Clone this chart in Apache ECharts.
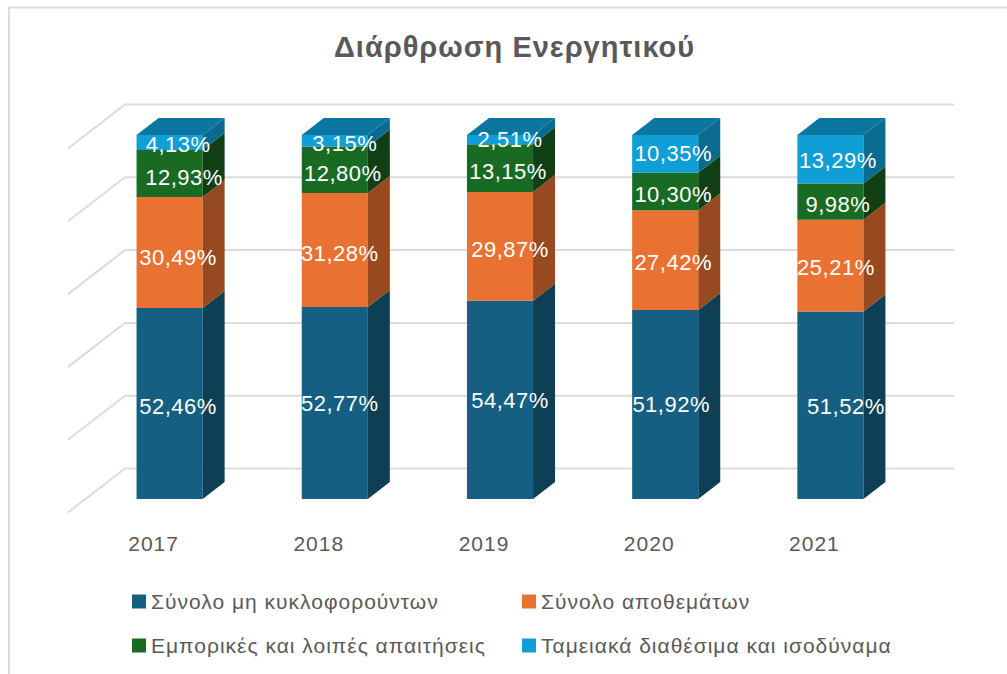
<!DOCTYPE html>
<html><head><meta charset="utf-8">
<style>html,body{margin:0;padding:0;background:#fff}#c{width:1007px;height:674px}
#c svg text{letter-spacing:1px}
#c svg text[style*="22px"]{letter-spacing:.5px}
</style>
<script src="https://cdn.jsdelivr.net/npm/echarts@6/dist/echarts.min.js"></script>
</head><body><div id="c"></div>
<script>
const chartTitle = 'Διάρθρωση Ενεργητικού';
const years = ['2017','2018','2019','2020','2021'];
const seriesNames = ['Σύνολο μη κυκλοφορούντων','Σύνολο αποθεμάτων','Εμπορικές και λοιπές απαιτήσεις','Ταμειακά διαθέσιμα και ισοδύναμα'];
const nonCurrent = [52.46,52.77,54.47,51.92,51.52];
const inventories = [30.49,31.28,29.87,27.42,25.21];
const receivables = [12.93,12.80,13.15,10.30,9.98];
const cash = [4.13,3.15,2.51,10.35,13.29];
const wallTicks = [0,20,40,60,80,100];

const values = [nonCurrent,inventories,receivables,cash];
const front = ['#156082','#E97132','#196B24','#0F9ED5'];
const side = ['#0D3F55','#97491F','#103F16','#0A6A90'];
const topFace = '#0B76A0';
const DX = 22, DY = -17;
const labelShift = [
 [[8.5,2.5],[5,1],[10,1],[6,0],[15.5,1]],
 [[8.5,5],[5,4],[10,3.6],[8,2],[5.5,2.4]],
 [[14.5,3.5],[8,4],[8,3],[8,3.5],[7.5,2.5]],
 [[8.5,2.5],[10,3],[10,0.4],[8,0],[7.5,1]]
];
const fmt = v => v.toFixed(2).replace('.',',') + '%';

function poly(points, fill){ return {type:'polygon',shape:{points},style:{fill},silent:true}; }

const series = [{
  type:'custom', name:'walls', silent:true, z:1,
  coordinateSystem:'cartesian2d',
  data: wallTicks.map(t=>[0,t]),
  renderItem(params, api){
    const g = params.coordSys;
    const y = api.coord([0, api.value(1)])[1] - 30.5;
    const l = g.x + 38, r = g.x + g.width + 41;
    return {type:'polyline',silent:true,
      shape:{points:[[l-57,y+44],[l,y],[r,y]]},
      style:{fill:null,stroke:'#DCDCDC',lineWidth:2}};
  }
}];
values.forEach((vals,si)=>{
  const data = vals.map((v,i)=>{
    let base = 0;
    for(let k=0;k<si;k++) base += values[k][i];
    return [i, base, base+v, v];
  });
  series.push({
    type:'custom', name:seriesNames[si], z:2+si, silent:true,
    coordinateSystem:'cartesian2d',
    itemStyle:{color:front[si]},
    data,
    encode:{x:0,y:[1,2]},
    renderItem(params, api){
      const i = api.value(0), a = api.value(1), b = api.value(2);
      const w = api.size([1,0])[0]*0.4;
      const p0 = api.coord([i,a]), p1 = api.coord([i,b]);
      const xl = p0[0]-w/2, xr = p0[0]+w/2;
      const ch = [
        {type:'rect',shape:{x:xl,y:p1[1],width:w,height:p0[1]-p1[1]},style:{fill:front[si]},silent:true},
        poly([[xr,p0[1]],[xr+DX,p0[1]+DY],[xr+DX,p1[1]+DY],[xr,p1[1]]],side[si])
      ];
      if(si===values.length-1){
        ch.push(poly([[xl,p1[1]],[xl+DX,p1[1]+DY],[xr+DX,p1[1]+DY],[xr,p1[1]]],topFace));
      }
      const s = labelShift[si][i];
      ch.push({type:'text',z2:20,silent:true,
        x:p0[0]+s[0], y:(p0[1]+p1[1])/2+s[1],
        style:{text:fmt(api.value(3)),fill:'#FFFFFF',font:'22px "Liberation Sans"',align:'center',verticalAlign:'middle'}});
      return {type:'group',children:ch};
    }
  });
});

const legendBase = {
  orient:'vertical', itemWidth:14, itemHeight:14, itemGap:23, selectedMode:false,
  icon:'rect', top:591, padding:0,
  textStyle:{color:'#595959',fontFamily:'Liberation Sans',fontSize:21}
};

const chart = echarts.init(document.getElementById('c'),null,{renderer:'svg'});
chart.setOption({
  animation:false,
  backgroundColor:'#fff',
  title:{text:chartTitle,left:329,top:27,
    textStyle:{color:'#595959',fontFamily:'Liberation Sans',fontWeight:'bold',fontSize:29}},
  grid:{left:87,top:135,width:826,height:364},
  xAxis:{type:'category',data:years,
    axisLine:{show:false},axisTick:{show:false},
    axisLabel:{margin:34,color:'#595959',fontFamily:'Liberation Sans',fontSize:21,padding:[0,32,0,0]}},
  yAxis:{type:'value',min:0,max:100,interval:20,show:false},
  legend:[
    Object.assign({},legendBase,{left:132,data:[seriesNames[0],seriesNames[2]]}),
    Object.assign({},legendBase,{left:522,data:[seriesNames[1],seriesNames[3]]})
  ],
  graphic:[{type:'rect',silent:true,shape:{x:9,y:7.5,width:1100,height:800},
    style:{fill:null,stroke:'#DCDCDC',lineWidth:2}}],
  series
});
</script></body></html>
